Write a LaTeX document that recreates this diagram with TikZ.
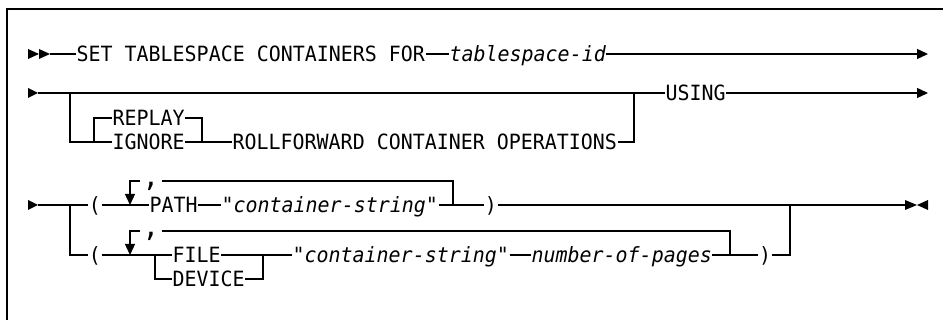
\documentclass[tikz,border=0pt]{standalone}
\usepackage{fontspec}
\newfontfamily\dfont[FakeStretch=0.95]{DejaVu Sans Mono}
\usetikzlibrary{arrows.meta}
\begin{document}
\begin{tikzpicture}[x=1pt,y=-1pt,line width=1.3pt,
  every node/.style={inner sep=0pt,text height=15.3pt,text depth=0pt,
    font=\dfont\fontsize{21pt}{24pt}\selectfont},
  kw/.style={anchor=west},
  var/.style={anchor=west,font=\dfont\itshape\fontsize{21pt}{24pt}\selectfont},
  par/.style={anchor=center,minimum width=12pt},
  sepc/.style={anchor=center,minimum width=20pt,text height=12pt,
    font=\dfont\fontsize{29pt}{30pt}\selectfont},
  endarr/.style={-{Triangle[length=11pt,width=10pt]}},
  frame/.style={line width=1.2pt}]
\useasboundingbox (0,0) rectangle (943,320);
% frame
\coordinate (ftr) at (943,9);
\coordinate (ftl) at (7,9);
\coordinate (fbl) at (7,320);
\draw[frame] (ftr) -- (ftl) -- (fbl);
% row 1
\fill (28,49) -- (39,54) -- (28,59) -- cycle;
\fill (39,49) -- (50,54) -- (39,59) -- cycle;
\coordinate (s1) at (50,54);
\coordinate (e1) at (928,54);
\node[kw] (set) at (76,54) {SET TABLESPACE CONTAINERS FOR};
\node[var] (tsid) at (449,54) {tablespace-id};
\draw (s1) -- (set.west);
\draw (set.east) -- (tsid.west);
\draw[endarr] (tsid.east) -- (e1);
% row 2
\fill (28,88) -- (38,93) -- (28,98) -- cycle;
\coordinate (s2) at (38,93);
\coordinate (j2a) at (70,93);
\coordinate (j2b) at (634,93);
\coordinate (e2) at (928,93);
\coordinate (bL) at (94,142);
\coordinate (bR) at (202,142);
\node[kw] (replay) at (112,118) {REPLAY};
\node[kw] (ignore) at (112,142) {IGNORE};
\node[kw] (roll) at (232,142) {ROLLFORWARD CONTAINER OPERATIONS};
\node[kw] (using) at (665,93) {USING};
\draw (s2) -- (using.west);
\draw (j2a) |- (ignore.west);
\draw (bL) |- (replay.west);
\draw (replay.east) -| (bR);
\draw (ignore.east) -- (roll.west);
\draw (roll.east) -| (j2b);
\draw[endarr] (using.east) -- (e2);
% row 3
\fill (28,200) -- (38,205) -- (28,210) -- cycle;
\coordinate (s3) at (38,205);
\coordinate (j3a) at (70,205);
\coordinate (a1) at (130,205);
\coordinate (l1) at (453,205);
\coordinate (j3b) at (790,205);
\coordinate (end3) at (905,205);
\node[par] (lp1) at (95,205) {(};
\node[kw] (path) at (149,205) {PATH};
\node[var] (cs1) at (221,205) {"container-string"};
\node[par] (rp1) at (491,205) {)};
\node[sepc] (c1) at (151,181) {,};
\draw (s3) -- (lp1.west);
\draw (lp1.east) -- (path.west);
\draw (l1) |- (c1.east);
\draw[endarr] (c1.west) -| (a1);
\draw (path.east) -- (cs1.west);
\draw (cs1.east) -- (rp1.west);
\draw (rp1.east) -- (end3);
\fill (905,200) -- (917,205) -- (905,210) -- cycle;
\fill (928,200) -- (917,205) -- (928,210) -- cycle;
% row 4
\coordinate (a2) at (130,255);
\coordinate (bL2) at (155,255);
\coordinate (bR2) at (263,255);
\coordinate (l2) at (730,255);
\node[par] (lp2) at (95,255) {(};
\node[sepc] (c2) at (151,231) {,};
\node[kw] (file) at (172,255) {FILE};
\node[kw] (device) at (172,279) {DEVICE};
\node[var] (cs2) at (292,255) {"container-string"};
\node[var] (nop) at (531,255) {number-of-pages};
\node[par] (rp2) at (765,255) {)};
\draw (j3a) |- (lp2.west);
\draw (lp2.east) -- (file.west);
\draw (l2) |- (c2.east);
\draw[endarr] (c2.west) -| (a2);
\draw (bL2) |- (device.west);
\draw (file.east) -- (cs2.west);
\draw (device.east) -| (bR2);
\draw (cs2.east) -- (nop.west);
\draw (nop.east) -- (rp2.west);
\draw (rp2.east) -| (j3b);
\end{tikzpicture}
\end{document}
